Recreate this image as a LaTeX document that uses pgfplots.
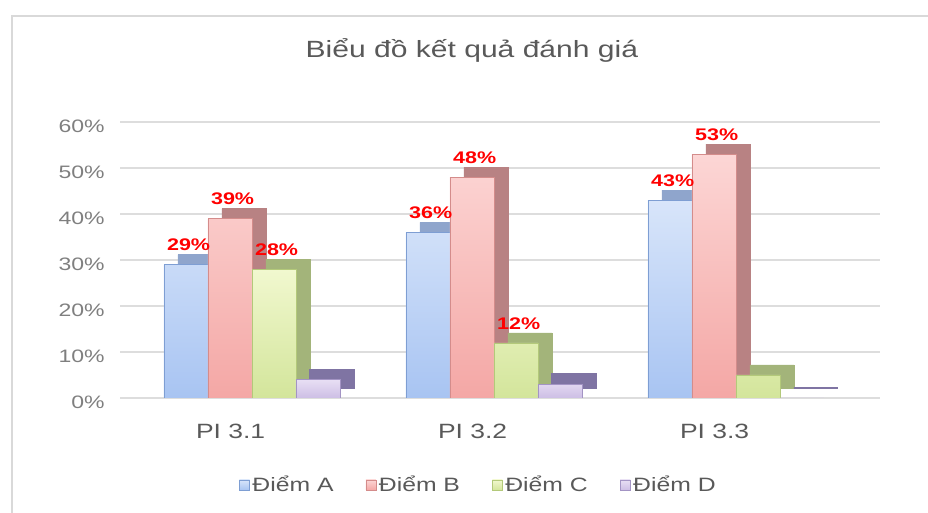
\documentclass[border=0pt]{standalone}
\usepackage{fontspec}
\setmainfont{Liberation Sans}
\usepackage{graphicx}
\usepackage{pgfplots}
\pgfplotsset{compat=1.18}

\definecolor{txt}{HTML}{595959}
\definecolor{tick}{HTML}{7F7F7F}
\definecolor{gridc}{HTML}{DDDDDD}
\definecolor{frame}{HTML}{D9D9D9}
\definecolor{Atop}{HTML}{D8E5FA}\definecolor{Abot}{HTML}{A8C4F2}\definecolor{Aedge}{HTML}{7E9ED3}\definecolor{Ash}{HTML}{8FA5CC}
\definecolor{Btop}{HTML}{FCD6D5}\definecolor{Bbot}{HTML}{F4A7A5}\definecolor{Bedge}{HTML}{D48C8B}\definecolor{Bsh}{HTML}{B88283}
\definecolor{Ctop}{HTML}{F1F8CF}\definecolor{Cbot}{HTML}{D3E59B}\definecolor{Cedge}{HTML}{B3C97A}\definecolor{Csh}{HTML}{A3B47A}
\definecolor{Dtop}{HTML}{E8DFF4}\definecolor{Dbot}{HTML}{CDBEE5}\definecolor{Dedge}{HTML}{A394C4}\definecolor{Dsh}{HTML}{7F74A3}

\newcommand{\sx}[1]{\scalebox{1.28}[1]{#1}}

\begin{document}
\begin{tikzpicture}
\draw[frame, line width=1.5pt] (9pt,0pt) -- (9pt,372.75pt) -- (700pt,372.75pt);
\begin{axis}[
  at={(90pt,86.25pt)}, anchor=south west,
  scale only axis, width=570pt, height=207pt,
  xmin=-0.545, xmax=2.595, ymin=0, ymax=60,
  ybar, bar width=33pt,
  axis line style={draw=none},
  major tick length=0pt,
  /pgf/number format/assume math mode=true,
  xtick={0,1,2},
  xticklabels={\sx{PI 3.1},\sx{PI 3.2},\sx{PI 3.3}},
  xticklabel style={font=\fontsize{15.5}{18}\selectfont, text=txt, yshift=-16pt, xshift=-16pt},
  ytick={0,10,...,60},
  yticklabel={\sx{\pgfmathprintnumber{\tick}\%}},
  yticklabel style={font=\fontsize{13.5}{16}\selectfont, text=tick, xshift=-8pt, yshift=-3pt},
  ymajorgrids, grid style={draw=gridc, line width=1.3pt},
  title={\sx{Biểu đồ kết quả đánh giá}},
  title style={font=\fontsize{17.6}{20}\selectfont, text=txt, at={(axis description cs:0.463,1.232)}, anchor=center},
  legend columns=4,
  legend style={at={(axis description cs:0.472,-0.315)}, anchor=center, draw=none, fill=none,
    font=\fontsize{14.5}{17}\selectfont, text=txt,
    /tikz/every even column/.append style={column sep=22pt}},
  legend image code/.code={\draw[#1] (0pt,-3.8pt) rectangle (7.6pt,3.8pt);},
  point meta=explicit symbolic,
  nodes near coords={\sx{\pgfplotspointmeta}},
  nodes near coords style={font=\bfseries\fontsize{12.6}{14}\selectfont, text=red, anchor=south, inner sep=0pt, yshift=10pt, xshift=2pt},
]
% depth (side and top faces)
\addplot[forget plot, bar shift=-49.5pt, xshift=10.5pt, yshift=7.5pt, fill=Ash, draw=Ash, nodes near coords={}] coordinates {(0,29) (1,36) (2,43)};
\addplot[forget plot, bar shift=-16.5pt, xshift=10.5pt, yshift=7.5pt, fill=Bsh, draw=Bsh, nodes near coords={}] coordinates {(0,39) (1,48) (2,53)};
\addplot[forget plot, bar shift=16.5pt, xshift=10.5pt, yshift=7.5pt, fill=Csh, draw=Csh, nodes near coords={}] coordinates {(0,28) (1,12) (2,5)};
\addplot[forget plot, bar shift=49.5pt, xshift=10.5pt, yshift=7.5pt, fill=Dsh, draw=Dsh, line width=1.5pt, nodes near coords={}] coordinates {(0,4) (1,3) (2,0)};
% front faces
\addplot[bar shift=-49.5pt, top color=Atop, bottom color=Abot, draw=Aedge] coordinates {(0,29) [29\%] (1,36) [36\%] (2,43) [43\%]};
\addplot[bar shift=-16.5pt, top color=Btop, bottom color=Bbot, draw=Bedge] coordinates {(0,39) [39\%] (1,48) [48\%] (2,53) [53\%]};
\addplot[bar shift=16.5pt, top color=Ctop, bottom color=Cbot, draw=Cedge] coordinates {(0,28) [28\%] (1,12) [12\%] (2,5) []};
\addplot[bar shift=49.5pt, top color=Dtop, bottom color=Dbot, draw=Dedge, nodes near coords={}] coordinates {(0,4) [] (1,3) [] (2,0) []};
\legend{\sx{Điểm A},\sx{Điểm B},\sx{Điểm C},\sx{Điểm D}}
\end{axis}
\pgfresetboundingbox
\useasboundingbox (0pt,0pt) rectangle (696pt,384.75pt);
\end{tikzpicture}
\end{document}
